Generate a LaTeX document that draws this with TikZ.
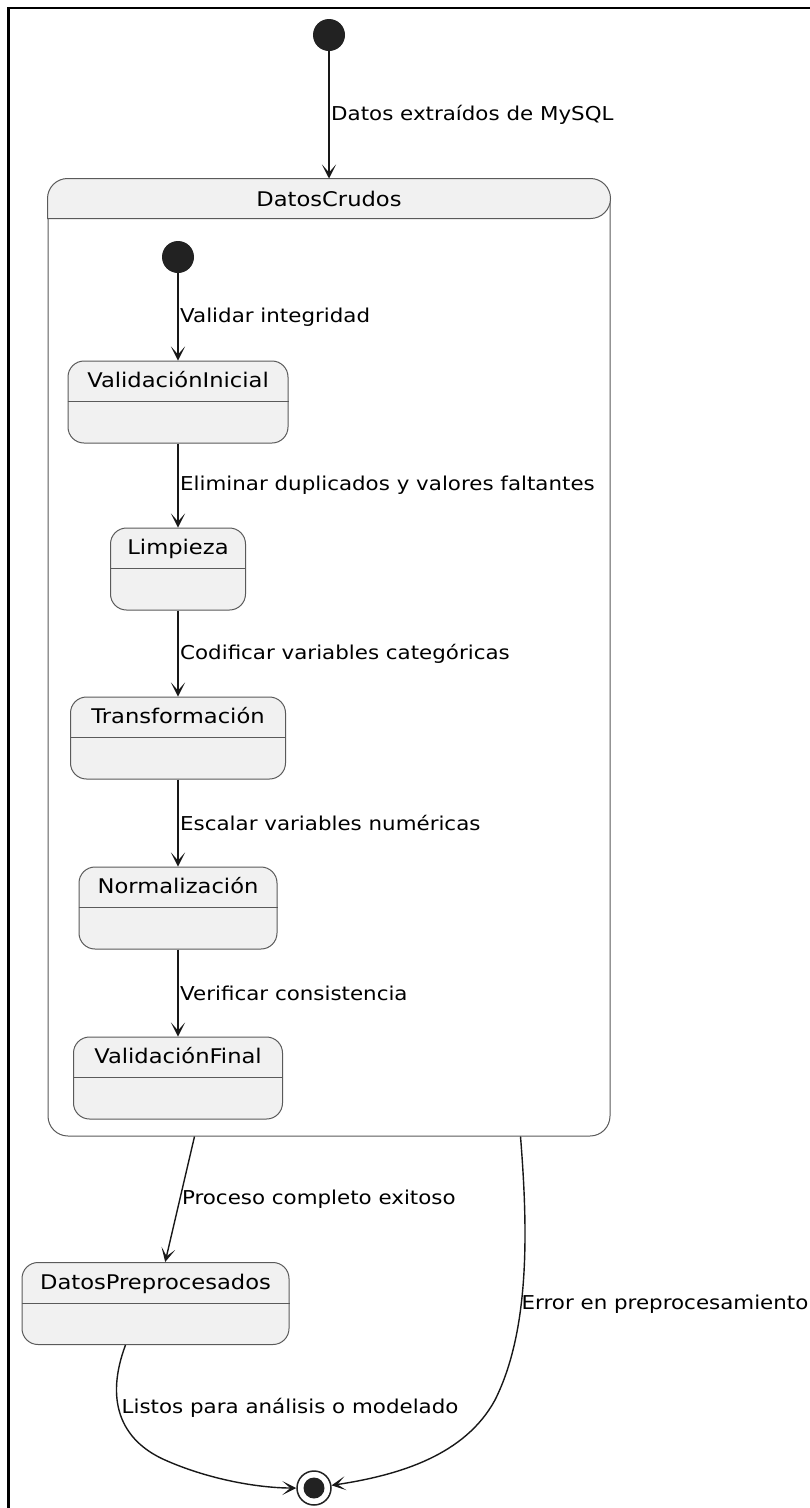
\documentclass[tikz,border=0pt]{standalone}
\usepackage{fontspec}
\setmainfont[FakeStretch=1.12]{DejaVu Sans}
\usepackage{tikz}
\usetikzlibrary{arrows.meta,calc}

\definecolor{statefill}{HTML}{F1F1F1}
\definecolor{stateline}{HTML}{5A5A5A}
\definecolor{arrowline}{HTML}{181818}
\definecolor{initfill}{HTML}{222222}

\tikzset{
  statebox/.style={draw=stateline, fill=statefill, line width=1, rounded corners=16, inner sep=0, minimum height=82},
  compbox/.style={draw=stateline, fill=white, line width=1, rounded corners=20, inner sep=0},
  comphead/.style={draw=stateline, fill=statefill, line width=1},
  hdrline/.style={draw=stateline, line width=1},
  titletext/.style={anchor=base, inner sep=0, font=\fontsize{20.2}{24}\selectfont},
  translbl/.style={inner sep=1.5, font=\fontsize{19.1}{23}\selectfont},
  trans/.style={draw=arrowline, line width=1.4, -{Stealth[length=14pt, width=14pt, inset=8pt]}},
  initstate/.style={circle, fill=initfill, minimum size=32, inner sep=0},
  finalstate/.style={circle, draw=initfill, line width=1.5, minimum size=34, inner sep=0,
    path picture={\fill[initfill] (path picture bounding box.center) circle (10.5pt);}}
}

\begin{document}
\begin{tikzpicture}[x=1pt,y=1pt,yscale=-1,xscale=1]
\useasboundingbox (0,0) rectangle (810,1508);
%Frame
\draw [line width=2.5] (8.5,1512) -- (8.5,8) -- (814,8) ;
%Initial State
\node [initstate] (start) at (329,35) {};
%Composite State
\node [compbox, minimum width=562, minimum height=957] (crudos) at (329,657.5) {};
\filldraw [comphead] ($(crudos.north west)+(0,40)$) [rounded corners=20] -- (crudos.north west) -- (crudos.north east) -- ($(crudos.north east)+(0,40)$) [sharp corners] -- cycle ;
\node [titletext] (crudos-t) at ($(crudos.north)+(0,28)$) {DatosCrudos};
%Inner Initial State
\node [initstate] (init) at (178,257) {};
%States
\node [statebox, minimum width=220] (vinicial) at (178,402) {};
\draw [hdrline] ($(vinicial.north west)+(0,41)$) -- ($(vinicial.north east)+(0,41)$) ;
\node [titletext] (vinicial-t) at ($(vinicial.north)+(0,27)$) {ValidaciónInicial};
\node [statebox, minimum width=135] (limpieza) at (178,569) {};
\draw [hdrline] ($(limpieza.north west)+(0,41)$) -- ($(limpieza.north east)+(0,41)$) ;
\node [titletext] (limpieza-t) at ($(limpieza.north)+(0,27)$) {Limpieza};
\node [statebox, minimum width=215] (transf) at (178,738) {};
\draw [hdrline] ($(transf.north west)+(0,41)$) -- ($(transf.north east)+(0,41)$) ;
\node [titletext] (transf-t) at ($(transf.north)+(0,27)$) {Transformación};
\node [statebox, minimum width=198] (normal) at (178,908) {};
\draw [hdrline] ($(normal.north west)+(0,41)$) -- ($(normal.north east)+(0,41)$) ;
\node [titletext] (normal-t) at ($(normal.north)+(0,27)$) {Normalización};
\node [statebox, minimum width=209] (vfinal) at (178,1078) {};
\draw [hdrline] ($(vfinal.north west)+(0,41)$) -- ($(vfinal.north east)+(0,41)$) ;
\node [titletext] (vfinal-t) at ($(vfinal.north)+(0,27)$) {ValidaciónFinal};
\node [statebox, minimum width=267] (preproc) at (155.5,1303.5) {};
\draw [hdrline] ($(preproc.north west)+(0,41)$) -- ($(preproc.north east)+(0,41)$) ;
\node [titletext] (preproc-t) at ($(preproc.north)+(0,27)$) {DatosPreprocesados};
%Final State
\node [finalstate] (fin) at (314,1488) {};
%Transitions
\draw [trans] (start) -- (crudos) node [translbl, midway, right] {Datos extraídos de MySQL};
\draw [trans] (init) -- (vinicial) node [translbl, midway, right] {Validar integridad};
\draw [trans] (vinicial) -- (limpieza) node [translbl, midway, right] {Eliminar duplicados y valores faltantes};
\draw [trans] (limpieza) -- (transf) node [translbl, midway, right] {Codificar variables categóricas};
\draw [trans] (transf) -- (normal) node [translbl, midway, right] {Escalar variables numéricas};
\draw [trans] (normal) -- (vfinal) node [translbl, midway, right] {Verificar consistencia};
\coordinate (crudos-out1) at ($(crudos.south west)+(147,0)$);
\coordinate (crudos-out2) at ($(crudos.south west)+(473,0)$);
\coordinate (preproc-out) at ($(preproc.south)+(-30,0)$);
\draw [trans] (crudos-out1) -- (preproc) node [translbl, midway, right] {Proceso completo exitoso};
\draw [trans] (preproc-out) .. controls (105,1400) and (120,1440) .. (165,1460) .. controls (210,1480) and (260,1488) .. (fin) ;
\draw [trans] (crudos-out2) .. controls (528,1230) and (530,1330) .. (495,1400) .. controls (465,1455) and (400,1475) .. (fin) ;
% Text Node
\node [translbl, anchor=west] (listos-l) at (120,1408) {Listos para análisis o modelado};
% Text Node
\node [translbl, anchor=west] (error-l) at (520,1304) {Error en preprocesamiento};
\end{tikzpicture}
\end{document}
